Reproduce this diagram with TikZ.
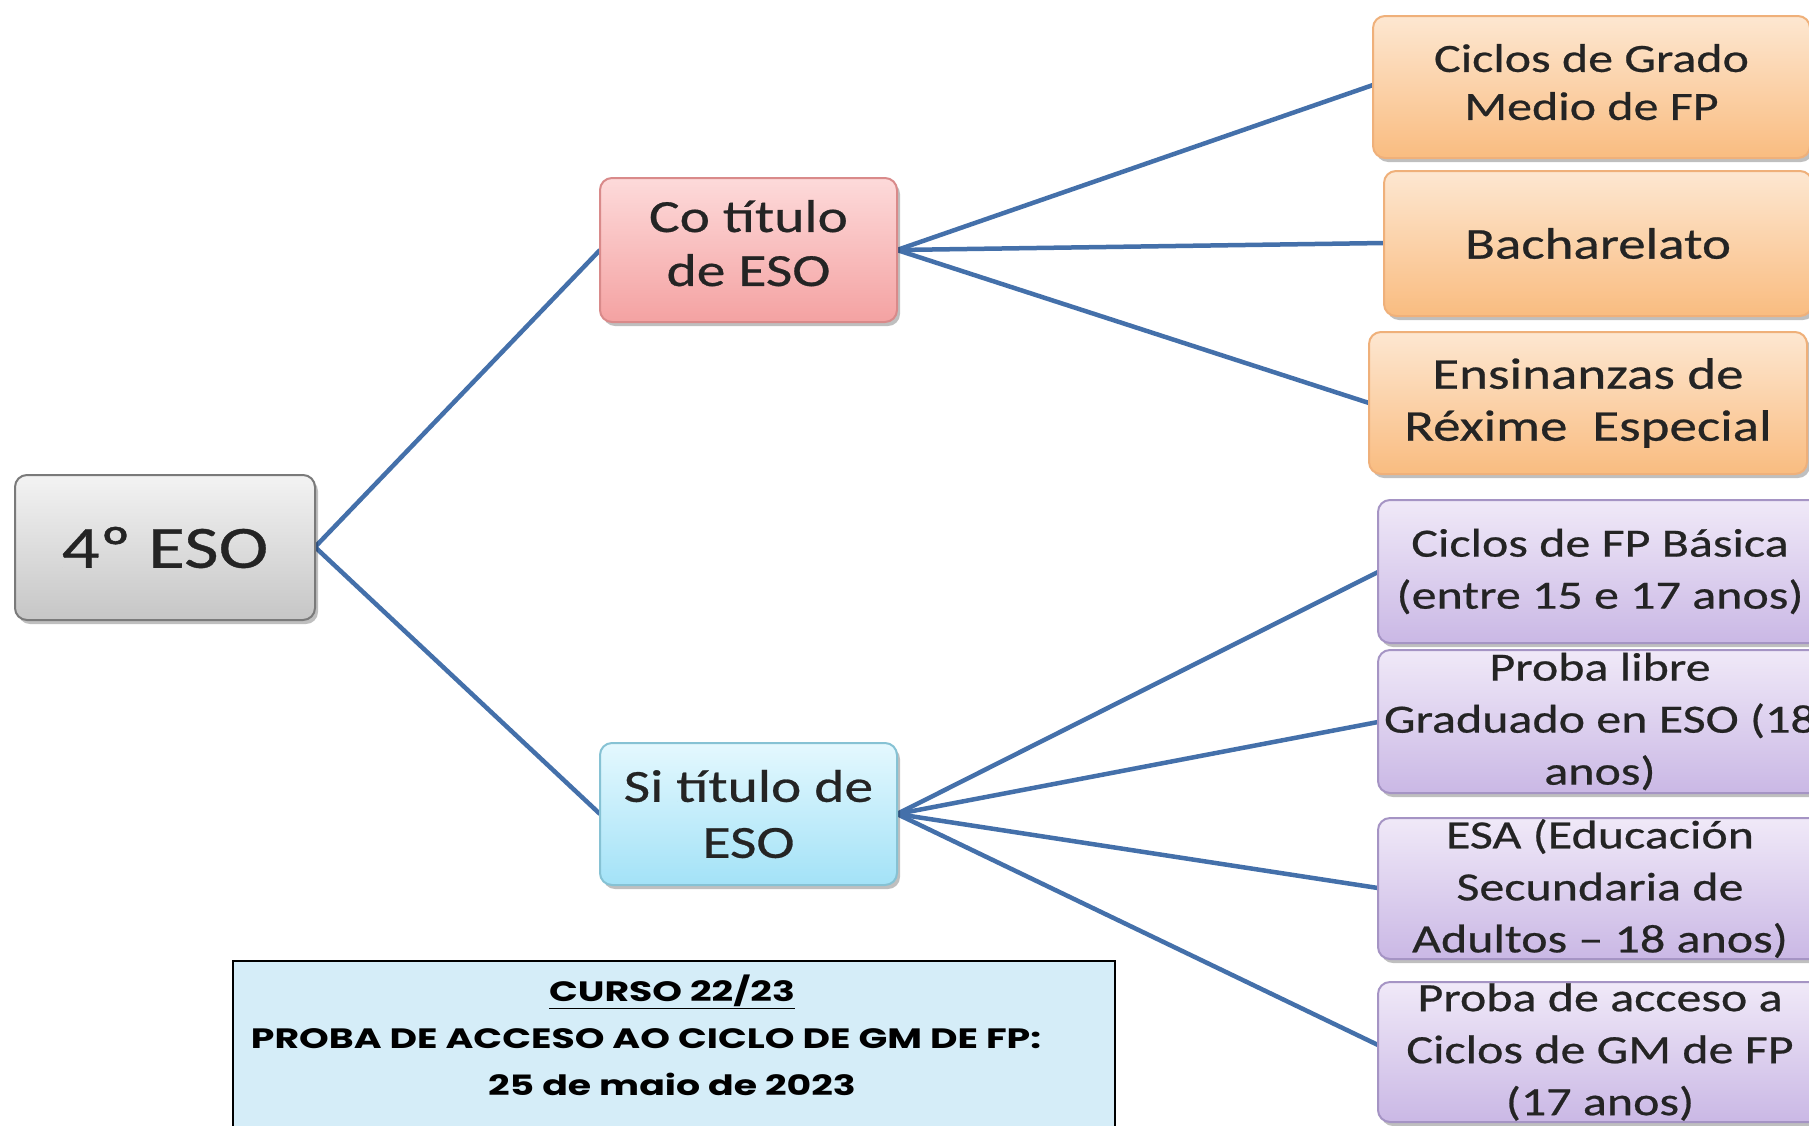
\documentclass[tikz,border=0pt]{standalone}
\usepackage{fontspec}
\usetikzlibrary{shadows}
\newfontfamily\boxfont[FakeStretch=1.25,FakeBold=0.6]{Carlito}
\newfontfamily\notefont[FakeStretch=1.35]{Poppins}
\definecolor{txt}{HTML}{242424}
\definecolor{link}{HTML}{4470AA}
\definecolor{grayT}{HTML}{F3F3F3}\definecolor{grayB}{HTML}{C6C6C6}\definecolor{grayD}{HTML}{7A7A7A}
\definecolor{pinkT}{HTML}{FDDADA}\definecolor{pinkB}{HTML}{F4A2A2}\definecolor{pinkD}{HTML}{D98A8A}
\definecolor{cyanT}{HTML}{E4F8FE}\definecolor{cyanB}{HTML}{A3E2F7}\definecolor{cyanD}{HTML}{86C2D4}
\definecolor{oraT}{HTML}{FDE7D1}\definecolor{oraB}{HTML}{F9BC80}\definecolor{oraD}{HTML}{EFB07A}
\definecolor{purT}{HTML}{F0E9F8}\definecolor{purB}{HTML}{CAB8E5}\definecolor{purD}{HTML}{A594C4}
\definecolor{noteF}{HTML}{D5EDF8}
\tikzset{
  mbox/.style={rounded corners=12pt, line width=2pt, align=center, inner sep=0pt,
    text=txt, drop shadow={shadow xshift=3pt, shadow yshift=-4pt, opacity=0.25, fill=black}},
  graybox/.style={mbox, draw=grayD, top color=grayT, bottom color=grayB},
  pinkbox/.style={mbox, draw=pinkD, top color=pinkT, bottom color=pinkB},
  cyanbox/.style={mbox, draw=cyanD, top color=cyanT, bottom color=cyanB},
  orabox/.style={mbox, draw=oraD, top color=oraT, bottom color=oraB},
  purbox/.style={mbox, draw=purD, top color=purT, bottom color=purB,
    font=\boxfont\fontsize{40}{52}\selectfont},
  conn/.style={draw=link, line width=4.5pt},
}
\begin{document}
\begin{tikzpicture}[x=1pt, y=-1pt]
\useasboundingbox (0,0) rectangle (1809,1125);
\clip (0,0) rectangle (1809,1125);
\fill[white] (0,0) rectangle (1809,1125);

% connectors first
\coordinate (c0) at (315,547);
\coordinate (c1l) at (600,250);  \coordinate (c1r) at (897,250);
\coordinate (c2l) at (600,814);  \coordinate (c2r) at (897,814);
\coordinate (o1) at (1373,85);   \coordinate (o2) at (1384,243);
\coordinate (o3) at (1369,403);
\coordinate (p1) at (1378,572);  \coordinate (p2) at (1378,722);
\coordinate (p3) at (1378,888);  \coordinate (p4) at (1378,1045);
\draw[conn] (c0) -- (c1l);
\draw[conn] (c0) -- (c2l);
\draw[conn] (c1r) -- (o1);
\draw[conn] (c1r) -- (o2);
\draw[conn] (c1r) -- (o3);
\draw[conn] (c2r) -- (p1);
\draw[conn] (c2r) -- (p2);
\draw[conn] (c2r) -- (p3);
\draw[conn] (c2r) -- (p4);

% root
\node[graybox, minimum width=300pt, minimum height=145pt,
      font=\boxfont\fontsize{60}{70}\selectfont] (root) at (165,547.5) {4º ESO};
% level 1
\node[pinkbox, minimum width=297pt, minimum height=144pt,
      font=\boxfont\fontsize{46}{54}\selectfont] (co) at (748.5,250)
  {Co título\\de ESO\rule[-14pt]{0pt}{0pt}};
\node[cyanbox, minimum width=297pt, minimum height=142pt,
      font=\boxfont\fontsize{46}{56}\selectfont] (si) at (748.5,814) {Si título de\\ESO};
% orange
\node[orabox, minimum width=437pt, minimum height=142pt,
      font=\boxfont\fontsize{40}{48}\selectfont] (ora1) at (1591.5,87)
  {Ciclos de Grado\\Medio de FP\rule[-10pt]{0pt}{0pt}};
\node[orabox, minimum width=428pt, minimum height=145pt,
      font=\boxfont\fontsize{44}{50}\selectfont] (ora2) at (1598,243.5) {Bacharelato};
\node[orabox, minimum width=438pt, minimum height=142pt,
      font=\boxfont\fontsize{44}{52}\selectfont] (ora3) at (1588,403) {Ensinanzas de\\Réxime\ \ Especial};
% purple
\node[purbox, minimum width=444pt, minimum height=143pt] (pur1) at (1600,571.5)
  {Ciclos de FP Básica\\(entre 15 e 17 anos)};
\node[purbox, minimum width=444pt, minimum height=143pt] (pur2) at (1600,721.5)
  {Proba libre\\Graduado en ESO (18\\anos)};
\node[purbox, minimum width=444pt, minimum height=141pt] (pur3) at (1600,888.5)
  {ESA (Educación\\Secundaria de\\Adultos – 18 anos)};
\node[purbox, minimum width=444pt, minimum height=140pt] (pur4) at (1600,1052)
  {Proba de acceso a\\Ciclos de GM de FP\\(17 anos)};

% note box
\node[draw=black, line width=1.5pt, fill=noteF, minimum width=882pt, minimum height=190pt,
      anchor=north west, inner sep=0pt] (note) at (232,960) {};
\node[align=center, anchor=north, inner sep=0pt, text=black,
      font=\notefont\bfseries\fontsize{28}{47}\selectfont] (notetxt) at (672,975)
  {\underline{CURSO 22/23}\\PROBA DE ACCESO AO CICLO DE GM DE FP:\rule{52pt}{0pt}\\25 de maio de 2023};
\end{tikzpicture}
\end{document}
